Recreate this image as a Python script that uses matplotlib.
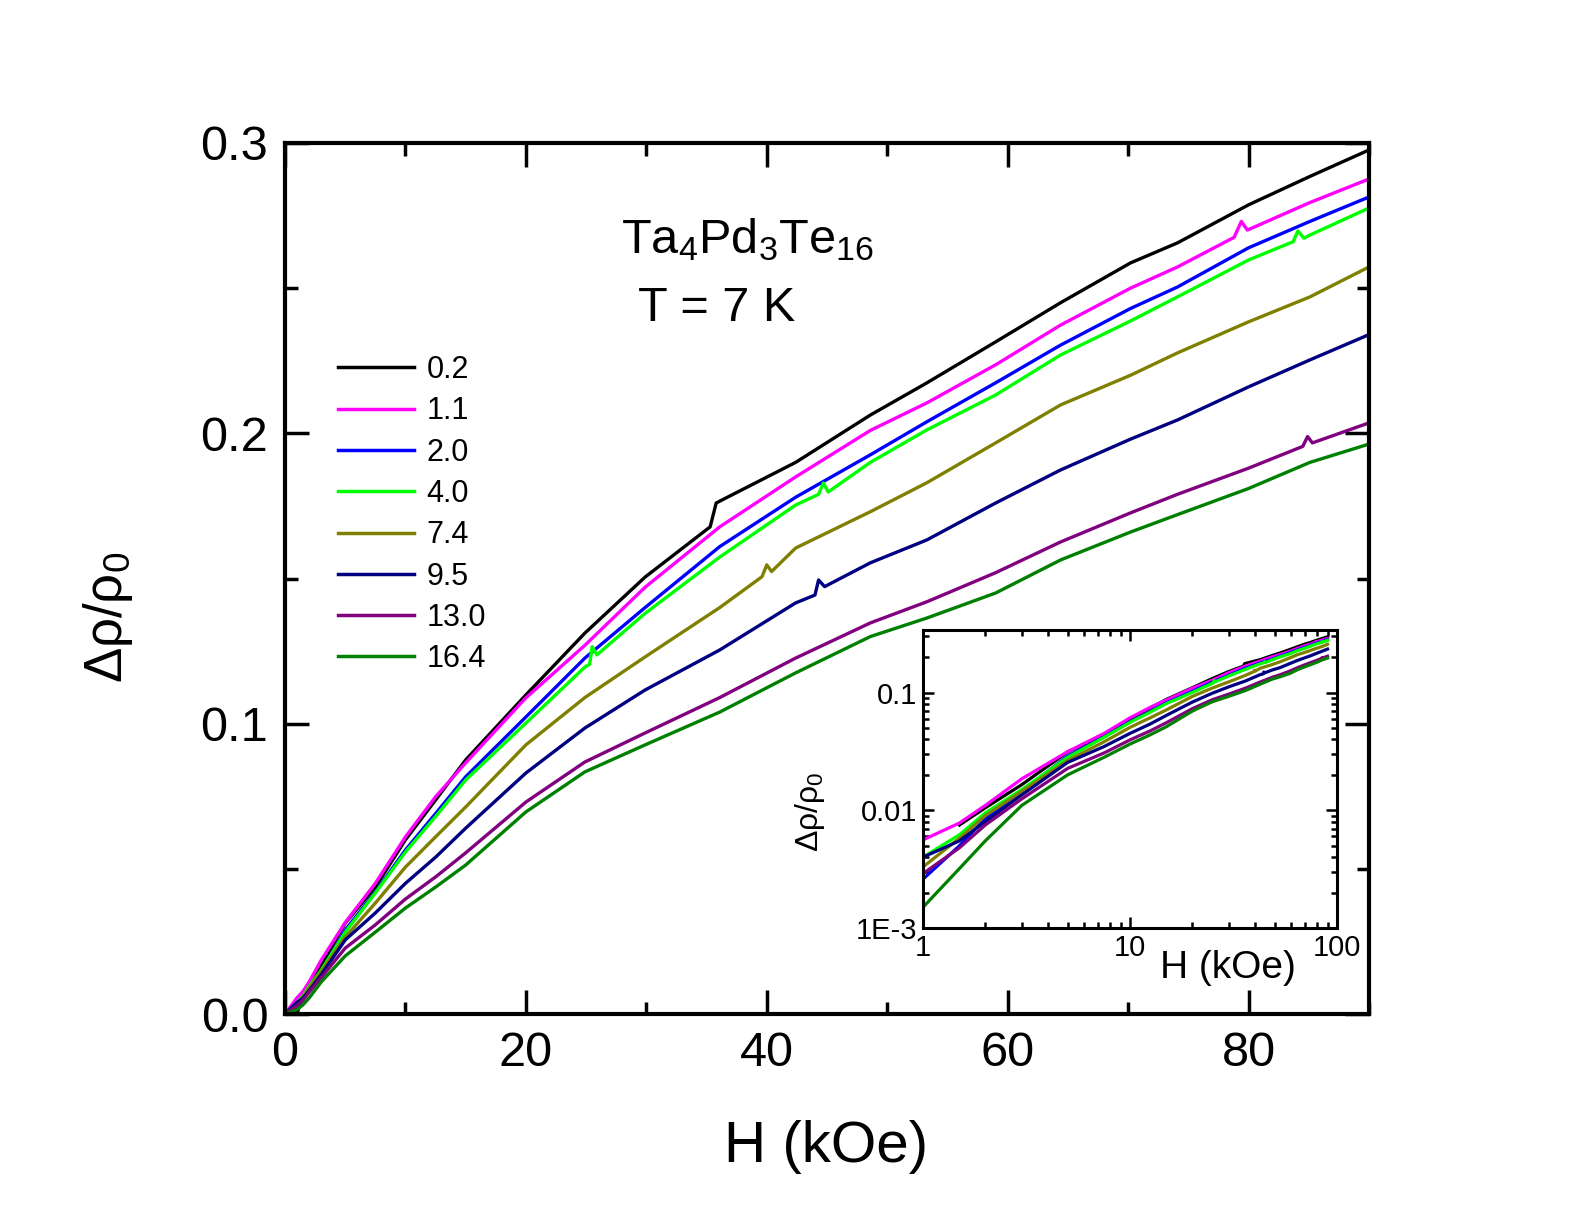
import numpy as np
import matplotlib
matplotlib.use("Agg")
import matplotlib.pyplot as plt
from matplotlib.ticker import FixedLocator, FuncFormatter, LogLocator, NullFormatter

plt.rcParams['font.family'] = ['Liberation Sans', 'DejaVu Sans']
plt.rcParams['mathtext.fontset'] = 'custom'
plt.rcParams['mathtext.rm'] = 'Liberation Sans'
plt.rcParams['mathtext.it'] = 'Liberation Sans:italic'
plt.rcParams['mathtext.bf'] = 'Liberation Sans:bold'

# ---------------- data ----------------
labels = ["0.2", "1.1", "2.0", "4.0", "7.4", "9.5", "13.0", "16.4"]
colors = ["#000000", "#FF00FF", "#0000FF", "#00FF00", "#808000", "#000080", "#800080", "#008000"]

H_base = [0, 1, 1.5, 2, 3, 5, 7.5, 10, 12.5, 15, 20, 24.9, 29.9, 36.1, 42.4, 48.6,
          53.3, 59, 64.4, 70.2, 74.1, 80, 85.1, 90]

H_black = [0, 1, 1.5, 2, 3, 5, 7.5, 10, 12.5, 15, 20, 24.9, 29.9, 35.3, 35.8, 36.5, 42.4, 48.6,
           53.3, 59, 64.4, 70.2, 74.1, 80, 85.1, 90]
v_black = [0, 0.0, 0.0075, 0.0105, 0.0165, 0.0313, 0.0437, 0.0600, 0.0737, 0.0875, 0.1099, 0.1312,
           0.1505, 0.1678, 0.1760, 0.1775, 0.1900, 0.2063, 0.2174, 0.2315, 0.2450, 0.2587, 0.2656,
           0.2787, 0.2885, 0.2976]

H_magenta = [0, 1, 1.5, 2, 3, 5, 7.5, 10, 12.5, 15, 20, 24.9, 29.9, 36.1, 42.4, 48.6,
             53.3, 59, 64.4, 70.2, 74.1, 78.8, 79.4, 79.9, 85.1, 90]
v_magenta = [0, 0.0056, 0.0078, 0.0110, 0.0185, 0.0315, 0.0450, 0.0610, 0.0748, 0.0865, 0.1089,
             0.1270, 0.1470, 0.1678, 0.1850, 0.2010, 0.2105, 0.2236, 0.2373, 0.2500, 0.2573,
             0.2675, 0.2730, 0.2700, 0.2795, 0.2876]

H_blue = H_base
v_blue = [0, 0.0026, 0.0050, 0.0085, 0.0145, 0.0289, 0.0420, 0.0565, 0.0690, 0.0817, 0.1023,
          0.1226, 0.1400, 0.1610, 0.1780, 0.1926, 0.2040, 0.2174, 0.2304, 0.2430, 0.2504,
          0.2639, 0.2730, 0.2814]

H_lime = [0, 1, 1.5, 2, 3, 5, 7.5, 10, 12.5, 15, 20, 24.9, 25.3, 25.5, 25.9, 29.9, 36.1, 42.4,
          44.3, 44.7, 45.1, 48.6, 53.3, 59, 64.4, 70.2, 74.1, 80, 83.7, 84.1, 84.6, 85.1, 90]
v_lime = [0, 0.0040, 0.0062, 0.0095, 0.0150, 0.0282, 0.0417, 0.0558, 0.0680, 0.0806, 0.1002,
          0.1195, 0.1205, 0.1265, 0.1237, 0.1380, 0.1574, 0.1753, 0.1790, 0.1829, 0.1798,
          0.1900, 0.2012, 0.2132, 0.2270, 0.2387, 0.2470, 0.2597, 0.2660, 0.2697, 0.2672,
          0.2683, 0.2776]

H_olive = [0, 1, 1.5, 2, 3, 5, 7.5, 10, 12.5, 15, 20, 24.9, 29.9, 36.1, 39.6, 40.0, 40.4, 42.4,
           48.6, 53.3, 59, 64.4, 70.2, 74.1, 80, 85.1, 90]
v_olive = [0, 0.0033, 0.0058, 0.0090, 0.0145, 0.0265, 0.0382, 0.0506, 0.0610, 0.0713, 0.0927,
           0.1090, 0.1230, 0.1400, 0.1506, 0.1547, 0.1524, 0.1605, 0.1730, 0.1830, 0.1967,
           0.2098, 0.2200, 0.2277, 0.2384, 0.2470, 0.2573]

H_navy = [0, 1, 1.5, 2, 3, 5, 7.5, 10, 12.5, 15, 20, 24.9, 29.9, 36.1, 42.4, 44.0, 44.3, 44.8,
          48.6, 53.3, 59, 64.4, 70.2, 74.1, 80, 85.1, 90]
v_navy = [0, 0.0040, 0.0055, 0.0080, 0.0135, 0.0255, 0.0348, 0.0450, 0.0540, 0.0640, 0.0830,
          0.0985, 0.1116, 0.1254, 0.1416, 0.1443, 0.1495, 0.1472, 0.1554, 0.1633, 0.1760,
          0.1874, 0.1980, 0.2046, 0.2160, 0.2253, 0.2340]

H_purple = [0, 1, 1.5, 2, 3, 5, 7.5, 10, 12.5, 15, 20, 24.9, 29.9, 36.1, 42.4, 48.6,
            53.3, 59, 64.4, 70.2, 74.1, 80, 84.5, 84.9, 85.3, 90]
v_purple = [0, 0.0029, 0.0048, 0.0075, 0.0125, 0.0227, 0.0307, 0.0396, 0.0472, 0.0555, 0.0730,
            0.0868, 0.0968, 0.1090, 0.1226, 0.1347, 0.1420, 0.1520, 0.1626, 0.1726, 0.1790,
            0.1880, 0.1955, 0.1989, 0.1967, 0.2036]

H_dkgreen = H_base
v_dkgreen = [0, 0.0015, 0.0032, 0.0055, 0.0110, 0.0200, 0.0282, 0.0365, 0.0437, 0.0513, 0.0696,
             0.0834, 0.0927, 0.1040, 0.1175, 0.1300, 0.1364, 0.1450, 0.1564, 0.1660, 0.1720,
             0.1810, 0.1900, 0.1963]

series_H = [H_black, H_magenta, H_blue, H_lime, H_olive, H_navy, H_purple, H_dkgreen]
series_v = [v_black, v_magenta, v_blue, v_lime, v_olive, v_navy, v_purple, v_dkgreen]

# ---------------- figure ----------------
W, Hh = 1592, 1217
fig = plt.figure(figsize=(W / 100, Hh / 100), dpi=100)
ax = fig.add_axes([285 / W, (Hh - 1014) / Hh, 1084 / W, 871 / Hh])

for h, v, c, lab in zip(series_H, series_v, colors, labels):
    ax.plot(h, v, color=c, lw=2.4, label=lab, solid_joinstyle='round')

ax.set_xlim(0, 90)
ax.set_ylim(0, 0.3)
ax.xaxis.set_major_locator(FixedLocator([0, 20, 40, 60, 80]))
ax.xaxis.set_minor_locator(FixedLocator([10, 30, 50, 70, 90]))
ax.yaxis.set_major_locator(FixedLocator([0, 0.1, 0.2, 0.3]))
ax.yaxis.set_minor_locator(FixedLocator([0.05, 0.15, 0.25]))
ax.yaxis.set_major_formatter(FuncFormatter(lambda y, p: f"{y:.1f}"))
ax.tick_params(which='both', direction='in', top=True, right=True, width=2.5)
ax.tick_params(which='major', length=17, labelsize=35, pad=12)
ax.tick_params(which='minor', length=9)
for s in ax.spines.values():
    s.set_linewidth(3)

fig.text(826 / W, 1 - 1147 / Hh, "H (kOe)", fontsize=42, ha='center', va='center')
fig.text(108 / W, 1 - 617 / Hh, "Δρ/ρ$_0$", fontsize=38, ha='center', va='center', rotation=90)

ax.text(38.4, 0.2666, "Ta$_4$Pd$_3$Te$_{16}$", fontsize=35, ha='center', va='center')
ax.text(35.8, 0.2430, "T = 7 K", fontsize=35, ha='center', va='center')

leg = ax.legend(loc='upper left', bbox_to_anchor=(338 / W, 1 - 355 / Hh),
                bbox_transform=fig.transFigure, frameon=False, fontsize=22,
                handlelength=2.5, handletextpad=0.4, labelspacing=0.37,
                borderpad=0, borderaxespad=0)
for line in leg.get_lines():
    line.set_linewidth(2.5)

# ---------------- inset ----------------
axi = fig.add_axes([923 / W, (Hh - 928) / Hh, 414 / W, 298 / Hh])
for h, v, c in zip(series_H, series_v, colors):
    hh = np.array(h, dtype=float)
    vv = np.array(v, dtype=float)
    m = (hh >= 1) & (vv > 0)
    axi.plot(hh[m], vv[m], color=c, lw=2.3)
axi.set_xscale('log')
axi.set_yscale('log')
axi.set_xlim(1, 100)
axi.set_ylim(1e-3, 0.34)
axi.xaxis.set_major_locator(FixedLocator([1, 10, 100]))
axi.xaxis.set_major_formatter(FuncFormatter(lambda x, p: {1: "1", 10: "10", 100: "100"}.get(int(round(x)), "")))
axi.xaxis.set_minor_locator(LogLocator(base=10, subs=np.arange(2, 10), numticks=20))
axi.xaxis.set_minor_formatter(NullFormatter())
axi.yaxis.set_major_locator(FixedLocator([1e-3, 1e-2, 1e-1]))
axi.yaxis.set_major_formatter(FuncFormatter(lambda y, p: {-3: "1E-3", -2: "0.01", -1: "0.1"}.get(int(round(np.log10(y))), "")))
axi.yaxis.set_minor_locator(LogLocator(base=10, subs=np.arange(2, 10), numticks=20))
axi.yaxis.set_minor_formatter(NullFormatter())
axi.tick_params(which='both', direction='in', top=True, right=True, width=1.8)
axi.tick_params(which='major', length=8, labelsize=21, pad=4)
axi.tick_params(which='minor', length=4)
for s in axi.spines.values():
    s.set_linewidth(2.2)

fig.text(1228 / W, 1 - 968 / Hh, "H (kOe)", fontsize=28, ha='center', va='center')
fig.text(810 / W, 1 - 812 / Hh, "Δρ/ρ$_0$", fontsize=23, ha='center', va='center', rotation=90)

fig.savefig("out.png", dpi=100)
